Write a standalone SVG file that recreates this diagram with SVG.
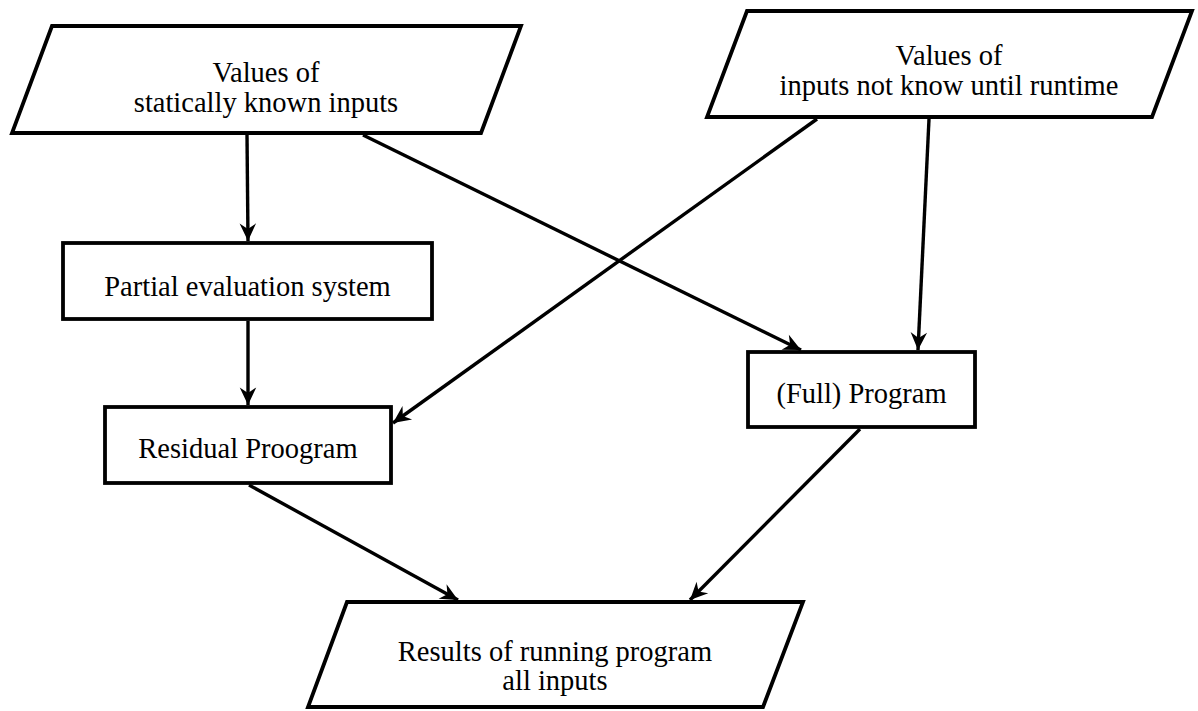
<svg xmlns="http://www.w3.org/2000/svg" width="1198" height="711" viewBox="0 0 1198 711">
  <style>
    .shape { fill: #ffffff; stroke: #000000; stroke-width: 3.8; stroke-linejoin: miter; }
    .label { font-family: "Liberation Serif", "Times New Roman", serif; font-size: 28.5px; fill: #000000; text-anchor: middle; }
    .edge { fill: none; stroke: #000000; stroke-width: 3.4; marker-end: url(#arrow); }
  </style>
  <defs>
    <!-- notched arrowhead, tip at the line end -->
    <marker id="arrow" markerUnits="userSpaceOnUse" markerWidth="22" markerHeight="22" viewBox="-18 -9 20 18" refX="0" refY="0" orient="auto">
      <path d="M0,0 L-16,-7.5 L-11,0 L-16,7.5 Z" fill="#000000"/>
    </marker>
  </defs>
  <rect width="1198" height="711" fill="#ffffff"/>

  <g id="connectors">
    <line class="edge" x1="247" y1="135" x2="248" y2="241"/>
    <line class="edge" x1="363" y1="135" x2="801" y2="350"/>
    <line class="edge" x1="929" y1="119" x2="918" y2="350"/>
    <line class="edge" x1="817" y1="119" x2="393" y2="423"/>
    <line class="edge" x1="248" y1="321" x2="248" y2="405"/>
    <line class="edge" x1="249" y1="485" x2="458" y2="600"/>
    <line class="edge" x1="860" y1="429" x2="690" y2="600"/>
  </g>

  <g id="static-inputs">
    <polygon class="shape" points="52,26 521,26 481,133 12,133"/>
    <text class="label" x="266" y="82">Values of</text>
    <text class="label" x="266" y="112">statically known inputs</text>
  </g>

  <g id="runtime-inputs">
    <polygon class="shape" points="747,11 1192,11 1152,117 707,117"/>
    <text class="label" x="949" y="65">Values of</text>
    <text class="label" x="949" y="95">inputs not know until runtime</text>
  </g>

  <g id="partial-evaluator">
    <rect class="shape" x="63" y="243" width="369" height="76"/>
    <text class="label" x="247.5" y="296">Partial evaluation system</text>
  </g>

  <g id="residual-program">
    <rect class="shape" x="105" y="407" width="286" height="76"/>
    <text class="label" x="248" y="458">Residual Proogram</text>
  </g>

  <g id="full-program">
    <rect class="shape" x="748" y="352" width="227" height="75"/>
    <text class="label" x="861.5" y="403">(Full) Program</text>
  </g>

  <g id="results">
    <polygon class="shape" points="347,602 803,602 763,707 308,707"/>
    <text class="label" x="555" y="661">Results of running program</text>
    <text class="label" x="555" y="690">all inputs</text>
  </g>
</svg>
